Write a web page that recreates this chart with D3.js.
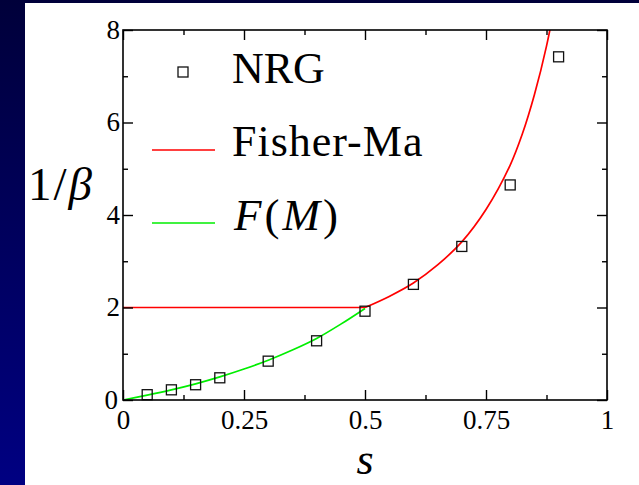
<!DOCTYPE html>
<html><head><meta charset="utf-8">
<script src="https://cdn.jsdelivr.net/npm/d3@7"></script>
<style>html,body{margin:0;padding:0;background:#000040;}svg{display:block;}</style>
</head><body>
<script>
// NRG data
const nrgS = [0.05, 0.1, 0.15, 0.2, 0.3, 0.4, 0.5, 0.6, 0.7, 0.8, 0.9];
const nrgV = [0.115, 0.22, 0.33, 0.48, 0.84, 1.28, 1.92, 2.5, 3.32, 4.65, 7.42];
// Fisher-Ma: flat part and rising part
const fisherFlatS = [0, 0.5];
const fisherFlatV = [2, 2];
const fisherS = [0.5, 0.55, 0.6, 0.65, 0.7, 0.75, 0.8, 0.825, 0.85, 0.875, 0.9];
const fisherV = [2.0, 2.24, 2.53, 2.92, 3.42, 4.12, 5.08, 5.75, 6.6, 7.65, 9.0];
// F(M)
const fmS = [0, 0.05, 0.1, 0.15, 0.2, 0.25, 0.3, 0.35, 0.4, 0.45, 0.5];
const fmV = [0, 0.105, 0.22, 0.35, 0.5, 0.67, 0.86, 1.08, 1.33, 1.64, 1.98];
// ticks
const xMajor = [0, 0.25, 0.5, 0.75, 1];
const xMajorLabels = ["0", "0.25", "0.5", "0.75", "1"];
const xMinor = [0.125, 0.375, 0.625, 0.875];
const yMajor = [0, 2, 4, 6, 8];
const yMinor = [1, 3, 5, 7];
const legendLabels = ["NRG", "Fisher-Ma", "F(M)"];

const W = 639, H = 485;
const L = 123, R = 607, T = 30, B = 400;
const svg = d3.select("body").append("svg").attr("width", W).attr("height", H);
const defs = svg.append("defs");
const grad = defs.append("linearGradient").attr("id", "bg").attr("x1", 0).attr("y1", 0).attr("x2", 0).attr("y2", 1);
grad.append("stop").attr("offset", "0%").attr("stop-color", "#00003a");
grad.append("stop").attr("offset", "100%").attr("stop-color", "#000082");
svg.append("rect").attr("width", W).attr("height", H).attr("fill", "url(#bg)");
svg.append("rect").attr("x", 25).attr("y", 3).attr("width", W - 25).attr("height", H - 3).attr("fill", "#fff");

defs.append("clipPath").attr("id", "clip").append("rect").attr("x", L).attr("y", T).attr("width", R - L).attr("height", B - T);

const x = d3.scaleLinear().domain([0, 1]).range([L, R]);
const y = d3.scaleLinear().domain([0, 8]).range([B, T]);
const font = "'Liberation Serif', 'Times New Roman', serif";

// curves
const line = d3.line().x(d => x(d[0])).y(d => y(d[1]));
const g = svg.append("g").attr("clip-path", "url(#clip)");
g.append("path").datum(fisherFlatS.map((s, i) => [s, fisherFlatV[i]]))
  .attr("d", line).attr("fill", "none").attr("stroke", "#ff0000").attr("stroke-width", 1.7);
g.append("path").datum(fisherS.map((s, i) => [s, fisherV[i]]))
  .attr("d", d3.line().x(d => x(d[0])).y(d => y(d[1])).curve(d3.curveCatmullRom))
  .attr("fill", "none").attr("stroke", "#ff0000").attr("stroke-width", 1.7);
g.append("path").datum(fmS.map((s, i) => [s, fmV[i]]))
  .attr("d", d3.line().x(d => x(d[0])).y(d => y(d[1])).curve(d3.curveCatmullRom))
  .attr("fill", "none").attr("stroke", "#00ee00").attr("stroke-width", 1.7);

// markers
const ms = 10;
svg.append("g").selectAll("rect").data(nrgS.map((s, i) => [s, nrgV[i]])).join("rect")
  .attr("x", d => x(d[0]) - ms / 2).attr("y", d => y(d[1]) - ms / 2)
  .attr("width", ms).attr("height", ms).attr("fill", "none").attr("stroke", "#111").attr("stroke-width", 1.3);

// axes frame + ticks
const axG = svg.append("g");
const tickLen = 10, minorLen = 5;
const xAxB = d3.axisBottom(x).tickValues(xMajor).tickSize(-tickLen).tickFormat((d, i) => xMajorLabels[i]);
const xa = axG.append("g").attr("transform", `translate(0,${B})`).call(xAxB);
xa.selectAll("text").attr("font-family", font).attr("font-size", 27).attr("fill", "#000").attr("y", 29).attr("dy", 0);
axG.append("g").attr("transform", `translate(0,${B})`).call(d3.axisBottom(x).tickValues(xMinor).tickSize(-minorLen).tickFormat(""));
axG.append("g").attr("transform", `translate(0,${T})`).call(d3.axisTop(x).tickValues(xMajor).tickSize(-tickLen).tickFormat(""));
axG.append("g").attr("transform", `translate(0,${T})`).call(d3.axisTop(x).tickValues(xMinor).tickSize(-minorLen).tickFormat(""));
const ya = axG.append("g").attr("transform", `translate(${L},0)`).call(d3.axisLeft(y).tickValues(yMajor).tickSize(-tickLen).tickFormat(d3.format("d")));
ya.selectAll("text").attr("font-family", font).attr("font-size", 27).attr("fill", "#000").attr("x", d => d === 0 ? -5 : -3).attr("dy", "0.3em");
axG.append("g").attr("transform", `translate(${L},0)`).call(d3.axisLeft(y).tickValues(yMinor).tickSize(-minorLen).tickFormat(""));
axG.append("g").attr("transform", `translate(${R},0)`).call(d3.axisRight(y).tickValues(yMajor).tickSize(-tickLen).tickFormat(""));
axG.append("g").attr("transform", `translate(${R},0)`).call(d3.axisRight(y).tickValues(yMinor).tickSize(-minorLen).tickFormat(""));
axG.selectAll(".domain").remove();
axG.selectAll(".tick line").attr("stroke", "#000").attr("stroke-width", 1.4);
svg.append("rect").attr("x", L).attr("y", T).attr("width", R - L).attr("height", B - T)
  .attr("fill", "none").attr("stroke", "#000").attr("stroke-width", 1.6);

// axis titles
const yl = svg.append("text").attr("x", 28).attr("y", 200).attr("font-family", font).attr("font-size", 47).attr("fill", "#000").attr("letter-spacing", 2);
yl.append("tspan").text("1/");
yl.append("tspan").attr("font-style", "italic").text("β");
svg.append("text").attr("x", x(0.5)).attr("y", 474).attr("text-anchor", "middle")
  .attr("font-family", font).attr("font-size", 44).attr("font-style", "italic").text("s");

// legend
const lg = svg.append("g");
lg.append("rect").attr("x", 183 - ms / 2).attr("y", 72 - ms / 2).attr("width", ms).attr("height", ms)
  .attr("fill", "none").attr("stroke", "#111").attr("stroke-width", 1.3);
lg.append("text").attr("x", 232).attr("y", 83).attr("font-family", font).attr("font-size", 44).text(legendLabels[0]);
lg.append("line").attr("x1", 152).attr("x2", 215).attr("y1", 150).attr("y2", 150).attr("stroke", "#ff0000").attr("stroke-width", 1.7);
lg.append("text").attr("x", 232).attr("y", 156).attr("font-family", font).attr("font-size", 44).attr("letter-spacing", 1).text(legendLabels[1]);
lg.append("line").attr("x1", 152).attr("x2", 215).attr("y1", 223).attr("y2", 223).attr("stroke", "#00ee00").attr("stroke-width", 1.7);
const fm = lg.append("text").attr("x", 234).attr("y", 230).attr("font-family", font).attr("font-size", 45).attr("letter-spacing", 3);
fm.append("tspan").attr("font-style", "italic").text("F");
fm.append("tspan").text("(");
fm.append("tspan").attr("font-style", "italic").text("M");
fm.append("tspan").text(")");
</script>
</body></html>
